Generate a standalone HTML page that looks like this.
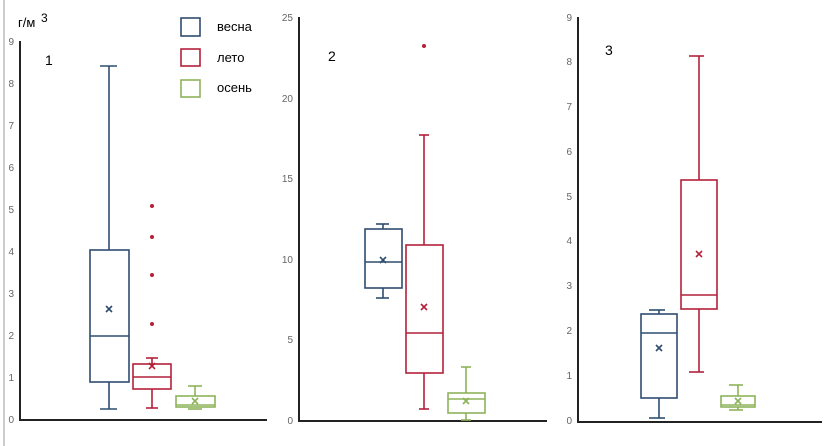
<!DOCTYPE html>
<html><head><meta charset="utf-8"><style>
html,body{margin:0;padding:0;background:#fff;}
svg{display:block;font-family:"Liberation Sans",sans-serif;}
.t{font-size:10px;fill:#666;text-anchor:end;}
.b{fill:none;stroke:#2e4d70;stroke-width:1.6}
.r{fill:none;stroke:#b4203a;stroke-width:1.6}
.g{fill:none;stroke:#8db35a;stroke-width:1.6}
.ax{stroke:#222;stroke-width:2;fill:none}
</style></head><body>
<svg width="834" height="446" viewBox="0 0 834 446">
<line x1="4" y1="0" x2="4" y2="446" stroke="#999" stroke-width="1"/>
<!-- panel 1 -->
<polyline class="ax" points="20,41 20,420 267,420"/>
<g class="t">
<text x="14" y="423">0</text><text x="14" y="381">1</text><text x="14" y="339">2</text><text x="14" y="297">3</text><text x="14" y="255">4</text><text x="14" y="213">5</text><text x="14" y="171">6</text><text x="14" y="129">7</text><text x="14" y="87">8</text><text x="14" y="45">9</text>
</g>
<text x="18" y="27" font-size="13">г/м</text><text x="41" y="22" font-size="12">3</text>
<text x="45" y="65" font-size="14">1</text>
<rect x="181" y="18" width="19" height="18" class="b"/><text x="217" y="31" font-size="13">весна</text>
<rect x="181" y="49" width="19" height="17" class="r"/><text x="217" y="62" font-size="13">лето</text>
<rect x="181" y="80" width="19" height="17" class="g"/><text x="217" y="92" font-size="13">осень</text>
<g class="b"><rect x="90" y="250" width="39" height="132"/><line x1="90" y1="336" x2="129" y2="336"/><line x1="109" y1="66" x2="109" y2="250"/><line x1="109" y1="382" x2="109" y2="409"/><line x1="100" y1="66" x2="117" y2="66"/><line x1="100" y1="409" x2="117" y2="409"/><path d="M106,306 l6,6 M112,306 l-6,6"/></g>
<g class="r"><rect x="133" y="364" width="38" height="25"/><line x1="133" y1="377" x2="171" y2="377"/><line x1="152" y1="358" x2="152" y2="364"/><line x1="152" y1="389" x2="152" y2="408"/><line x1="146" y1="358" x2="158" y2="358"/><line x1="146" y1="408" x2="158" y2="408"/><path d="M149,363 l6,6 M155,363 l-6,6"/></g>
<g fill="#b4203a"><circle cx="152" cy="206" r="2"/><circle cx="152" cy="237" r="2"/><circle cx="152" cy="275" r="2"/><circle cx="152" cy="324" r="2"/></g>
<g class="g" stroke="#6f9a40"><rect x="176" y="396" width="39" height="11"/><line x1="176" y1="405" x2="215" y2="405"/><line x1="195" y1="386" x2="195" y2="396"/><line x1="188" y1="386" x2="202" y2="386"/><line x1="188" y1="409" x2="202" y2="409"/><path d="M192,398 l6,6 M198,398 l-6,6"/></g>
<!-- panel 2 -->
<polyline class="ax" points="299,17 299,421 547,421"/>
<g class="t">
<text x="293" y="424">0</text><text x="293" y="343">5</text><text x="293" y="263">10</text><text x="293" y="182">15</text><text x="293" y="102">20</text><text x="293" y="21">25</text>
</g>
<text x="328" y="61" font-size="14">2</text>
<g class="b"><rect x="365" y="229" width="37" height="59"/><line x1="365" y1="262" x2="402" y2="262"/><line x1="383" y1="224" x2="383" y2="229"/><line x1="383" y1="288" x2="383" y2="298"/><line x1="376" y1="224" x2="389" y2="224"/><line x1="376" y1="298" x2="389" y2="298"/><path d="M380,257 l6,6 M386,257 l-6,6"/></g>
<g class="r"><rect x="406" y="245" width="37" height="128"/><line x1="406" y1="333" x2="443" y2="333"/><line x1="424" y1="135" x2="424" y2="245"/><line x1="424" y1="373" x2="424" y2="409"/><line x1="419" y1="135" x2="429" y2="135"/><line x1="419" y1="409" x2="429" y2="409"/><path d="M421,304 l6,6 M427,304 l-6,6"/></g>
<circle cx="424" cy="46" r="2" fill="#b4203a"/>
<g class="g" stroke="#a3bf72"><rect x="448" y="393" width="37" height="20"/><line x1="448" y1="399" x2="485" y2="399"/><line x1="466" y1="367" x2="466" y2="393"/><line x1="466" y1="413" x2="466" y2="420"/><line x1="461" y1="367" x2="471" y2="367"/><line x1="461" y1="420" x2="471" y2="420"/><path d="M463,398 l6,6 M469,398 l-6,6"/></g>
<!-- panel 3 -->
<polyline class="ax" points="578,17 578,422 822,422"/>
<g class="t">
<text x="572" y="424">0</text><text x="572" y="379">1</text><text x="572" y="334">2</text><text x="572" y="289">3</text><text x="572" y="244">4</text><text x="572" y="200">5</text><text x="572" y="155">6</text><text x="572" y="110">7</text><text x="572" y="65">8</text><text x="572" y="21">9</text>
</g>
<text x="605" y="55" font-size="14">3</text>
<g class="b" stroke="#253e5e"><rect x="641" y="314" width="36" height="84"/><line x1="641" y1="333" x2="677" y2="333"/><line x1="659" y1="310" x2="659" y2="314"/><line x1="659" y1="398" x2="659" y2="418"/><line x1="649" y1="310" x2="665" y2="310"/><line x1="649" y1="418" x2="665" y2="418"/><path d="M656,345 l6,6 M662,345 l-6,6"/></g>
<g class="r"><rect x="681" y="180" width="36" height="129"/><line x1="681" y1="295" x2="717" y2="295"/><line x1="699" y1="56" x2="699" y2="180"/><line x1="699" y1="309" x2="699" y2="372"/><line x1="689" y1="56" x2="704" y2="56"/><line x1="689" y1="372" x2="704" y2="372"/><path d="M696,251 l6,6 M702,251 l-6,6"/></g>
<g class="g" stroke="#7ec04a"><rect x="721" y="396" width="34" height="11"/><line x1="721" y1="405" x2="755" y2="405"/><line x1="738" y1="385" x2="738" y2="396"/><line x1="738" y1="407" x2="738" y2="410"/><line x1="729" y1="385" x2="743" y2="385"/><line x1="729" y1="410" x2="743" y2="410"/><path d="M735,398 l6,6 M741,398 l-6,6"/></g>
</svg>
</body></html>
